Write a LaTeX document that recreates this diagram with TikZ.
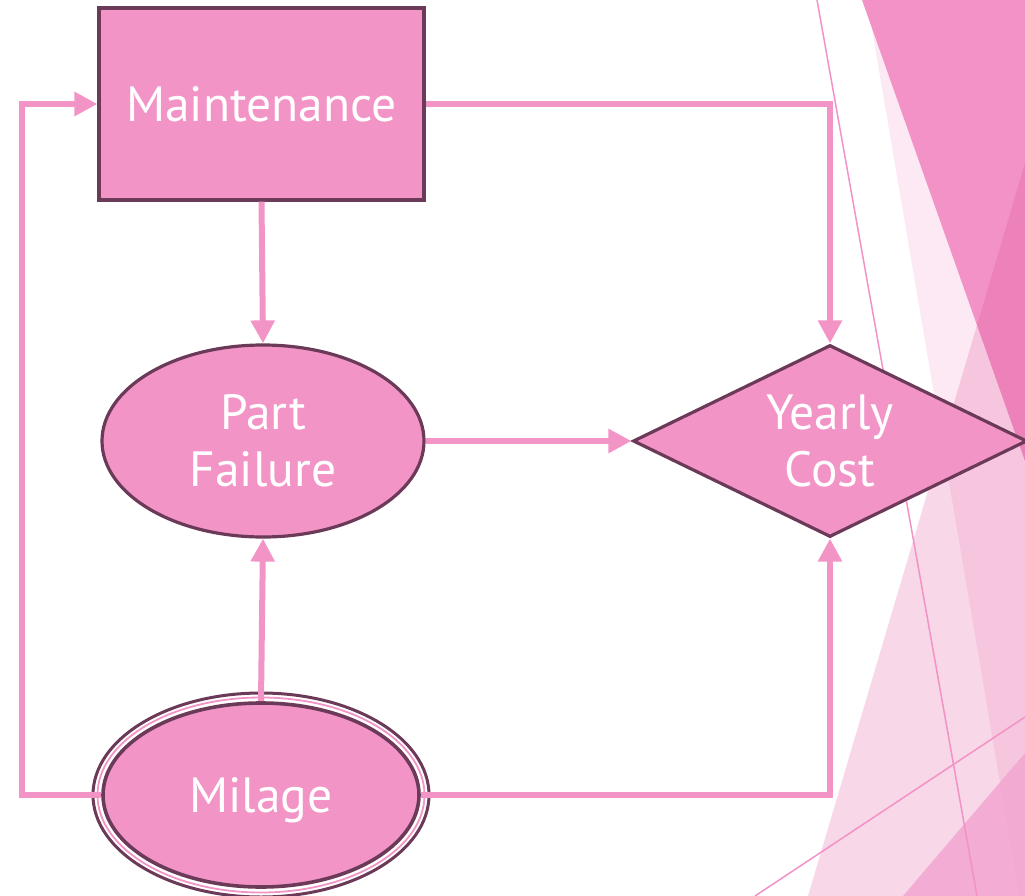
\documentclass[tikz,border=0pt]{standalone}
\usepackage{fontspec}
\setmainfont{PT Sans}
\usetikzlibrary{shapes.geometric,arrows.meta}

\definecolor{rosefill}{RGB}{243,148,199}
\definecolor{plum}{RGB}{107,58,88}
\definecolor{facet}{RGB}{242,146,198}
\definecolor{facetdeep}{RGB}{224,80,154}
\definecolor{facetlow}{RGB}{242,165,208}

\tikzset{
  shapebox/.style={fill=rosefill, draw=plum, line width=3.2pt, text=white,
    inner sep=0pt, align=center, font=\fontsize{49.5}{57}\selectfont},
  link/.style={draw=rosefill, line width=6pt,
    -{Triangle[length=23pt,width=23pt]}},
  facetline/.style={draw=facet, line width=1.5pt}
}

\begin{document}
\begin{tikzpicture}[x=1pt, y=-1pt]
\useasboundingbox (0,0) rectangle (1025,896);

% faceted background on the right
\begin{scope}
  \clip (0,0) rectangle (1025,896);
  \fill[facet, opacity=0.2] (867,0) -- (1025,0) -- (1025,929) -- cycle;
  \fill[facet] (862,0) -- (1025,0) -- (1025,461) -- cycle;
  \fill[facetdeep, opacity=0.23] (1025,163) -- (808,896) -- (1025,896) -- cycle;
  \fill[facetlow, opacity=0.85] (1025,753) -- (903,896) -- (1025,896) -- cycle;
  \draw[facetline] (817,0) -- (977,896);
  \draw[facetline] (755,896) -- (1025,717);
\end{scope}

% nodes
\node[shapebox, rectangle, minimum width=325pt, minimum height=192pt]
      (mt) at (261.5,104) {Maintenance};
\node[shapebox, ellipse, minimum width=322pt, minimum height=192pt]
      (pf) at (263,441) {Part\\Failure};
\node[shapebox, diamond, shape aspect=2.1, minimum width=394pt,
      minimum height=192pt] (yc) at (830,441) {Yearly\\Cost};
\node[shapebox, ellipse, minimum width=316pt, minimum height=184pt,
      line width=3.6pt, text depth=0pt] (mil) at (261,795) {Milage};

% rings round the Milage ellipse
\draw[plum, line width=3pt] (mil.center) ellipse (168 and 102);
\draw[rosefill, line width=1.8pt] (mil.center) ellipse (163.5 and 97.5);

% connectors
\coordinate (lft) at (22,795);
\draw[link] (mt.south) -- (pf.north);
\draw[link] (mt.east) -| (yc.north);
\draw[link] (pf.east) -- (yc.west);
\draw[link] (mil.north) -- (pf.south);
\draw[link] (mil.east) -| (yc.south);
\draw[link] (mil.west) -- (lft) |- (mt.west);
\end{tikzpicture}
\end{document}
